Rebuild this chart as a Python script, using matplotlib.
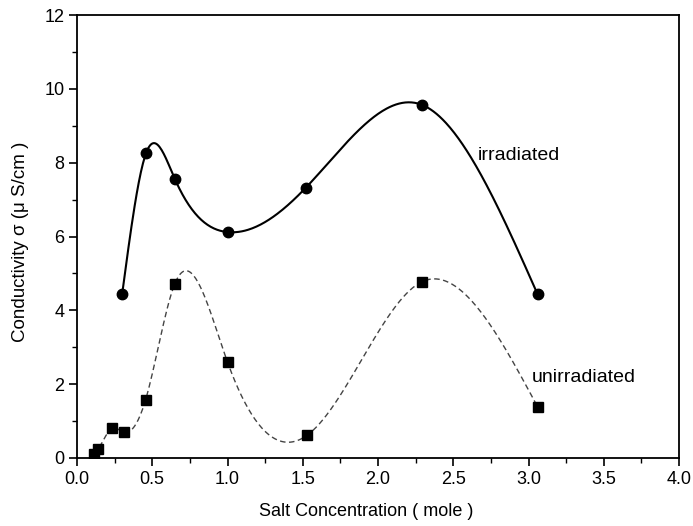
import numpy as np
import matplotlib
matplotlib.use("Agg")
import matplotlib.pyplot as plt
from matplotlib.ticker import MultipleLocator

plt.rcParams['font.family'] = ['Liberation Sans', 'DejaVu Sans']

# Conductivity vs salt concentration
irr_x = [0.30, 0.46, 0.65, 1.00, 1.52, 2.29, 3.06]
irr_y = [4.44, 8.27, 7.56, 6.12, 7.32, 9.57, 4.44]

unirr_x = [0.11, 0.14, 0.23, 0.31, 0.456, 0.65, 1.00, 1.53, 2.29, 3.06]
unirr_y = [0.11, 0.24, 0.80, 0.70, 1.58, 4.72, 2.60, 0.62, 4.77, 1.39]

x_ticks = [0.0, 0.5, 1.0, 1.5, 2.0, 2.5, 3.0, 3.5, 4.0]
y_ticks = [0, 2, 4, 6, 8, 10, 12]


def natural_spline(x, y, n=400):
    x = np.asarray(x, float)
    y = np.asarray(y, float)
    m = len(x)
    h = np.diff(x)
    A = np.zeros((m, m))
    r = np.zeros(m)
    A[0, 0] = A[-1, -1] = 1.0
    for i in range(1, m - 1):
        A[i, i - 1] = h[i - 1]
        A[i, i] = 2 * (h[i - 1] + h[i])
        A[i, i + 1] = h[i]
        r[i] = 6 * ((y[i + 1] - y[i]) / h[i] - (y[i] - y[i - 1]) / h[i - 1])
    M = np.linalg.solve(A, r)
    xs = np.linspace(x[0], x[-1], n)
    idx = np.clip(np.searchsorted(x, xs) - 1, 0, m - 2)
    x0, x1 = x[idx], x[idx + 1]
    hh = x1 - x0
    a = (x1 - xs) / hh
    b = (xs - x0) / hh
    ys = (a * y[idx] + b * y[idx + 1]
          + ((a ** 3 - a) * M[idx] + (b ** 3 - b) * M[idx + 1]) * hh ** 2 / 6)
    return xs, ys


fig = plt.figure(figsize=(6.93, 5.26), dpi=100)
ax = fig.add_axes([77 / 693, (526 - 458) / 526, (679 - 77) / 693, (458 - 15) / 526])

sx, sy = natural_spline(irr_x, irr_y)
ax.plot(sx, sy, color='black', lw=1.5)
ax.plot(irr_x, irr_y, 'o', color='black', ms=7.5)

ux, uy = natural_spline(unirr_x, unirr_y)
ax.plot(ux, uy, color='#444444', lw=1.0, ls=(0, (4, 2.5)))
ax.plot(unirr_x, unirr_y, 's', color='black', ms=6.5)

ax.text(2.665, 8.2, 'irradiated', fontsize=14, va='center', ha='left')
ax.text(3.02, 2.17, 'unirradiated', fontsize=14, va='center', ha='left')

ax.set_xlim(0, 4)
ax.set_ylim(0, 12)
ax.set_xticks(x_ticks)
ax.set_xticklabels([f'{v:.1f}' for v in x_ticks])
ax.set_yticks(y_ticks)
ax.set_yticklabels([str(v) for v in y_ticks])
ax.xaxis.set_minor_locator(MultipleLocator(0.25))
ax.yaxis.set_minor_locator(MultipleLocator(1))
ax.tick_params(which='major', direction='out', length=6, width=1.2, labelsize=13,
               pad=3, top=False, right=False)
ax.tick_params(which='minor', direction='out', length=3.6, width=1.0, top=False, right=False)
for s in ax.spines.values():
    s.set_linewidth(1.3)

ax.set_xlabel('Salt Concentration ( mole )', fontsize=13)
ax.set_ylabel('Conductivity σ (μ S/cm )', fontsize=13.5)
ax.xaxis.set_label_coords(0.481, -0.101)
ax.yaxis.set_label_coords(-0.08, 0.488)

fig.savefig('out.png', dpi=100)
